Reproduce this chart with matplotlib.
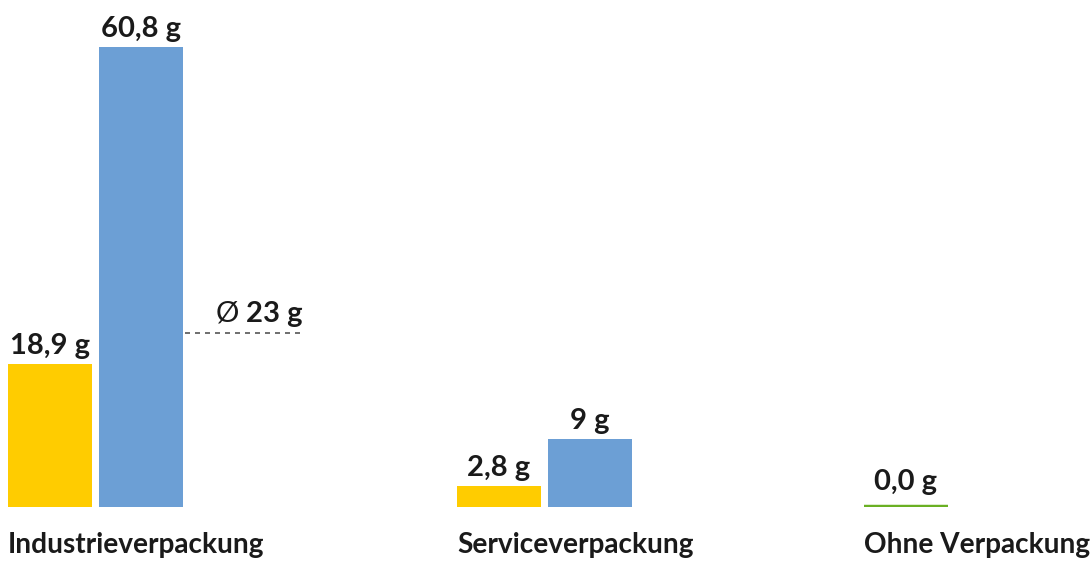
import matplotlib
matplotlib.use("Agg")
import matplotlib.pyplot as plt

categories = ["Industrieverpackung", "Serviceverpackung", "Ohne Verpackung"]
yellow_vals = [18.9, 2.8, None]
blue_vals = [60.8, 9.0, None]
green_vals = [None, None, 0.0]
yellow_labels = ["18,9 g", "2,8 g", None]
blue_labels = ["60,8 g", "9 g", None]
green_labels = [None, None, "0,0 g"]
avg_value = 23.0
avg_label_sym = "Ø"
avg_label_num = "23 g"

YELLOW = "#FFCC00"
BLUE = "#6C9FD5"
GREEN = "#6AB023"
TEXT = "#1a1a1a"
FONT = ["Lato", "DejaVu Sans"]

W, H = 1090, 561
fig = plt.figure(figsize=(W / 100, H / 100), dpi=100)
bottom_px = 54
ax = fig.add_axes([0, bottom_px / H, 1, 1 - bottom_px / H])
px_per_g = 460 / 60.8
ax.set_xlim(0, W)
ax.set_ylim(0, (H - bottom_px) / px_per_g)
ax.axis("off")

group_starts = [8, 457, 864]
bw = 84
gap = 7
fs = 21
fs_cat = 20.2

for i, start in enumerate(group_starts):
    x = start
    if yellow_vals[i] is not None:
        ax.bar(x, yellow_vals[i], width=bw, align="edge", color=YELLOW)
        ax.annotate(yellow_labels[i], (x + bw / 2, yellow_vals[i]), xytext=(0, 5),
                    textcoords="offset pixels", ha="center", va="bottom",
                    fontsize=fs, fontweight="bold", color=TEXT, family=FONT)
        x += bw + gap
    if blue_vals[i] is not None:
        ax.bar(x, blue_vals[i], width=bw, align="edge", color=BLUE)
        ax.annotate(blue_labels[i], (x + bw / 2, blue_vals[i]), xytext=(0, 5),
                    textcoords="offset pixels", ha="center", va="bottom",
                    fontsize=fs, fontweight="bold", color=TEXT, family=FONT)
        x += bw + gap
    if green_vals[i] is not None:
        ax.plot([x, x + bw], [green_vals[i], green_vals[i]], color=GREEN, lw=3.2,
                solid_capstyle="butt")
        ax.annotate(green_labels[i], (x + bw / 2, green_vals[i]), xytext=(0, 12),
                    textcoords="offset pixels", ha="center", va="bottom",
                    fontsize=fs, fontweight="bold", color=TEXT, family=FONT)
    fig.text((start) / W, 1 - 545 / H, categories[i], ha="left", va="center",
             fontsize=fs_cat, fontweight="bold", color=TEXT, family=FONT)

# average line
ax.plot([185, 303], [avg_value, avg_value], color="#555555", lw=1.2,
        linestyle=(0, (3, 3)))
t = ax.annotate(avg_label_num, (303, avg_value), xytext=(0, 6),
                textcoords="offset pixels", ha="right", va="bottom",
                fontsize=fs, fontweight="bold", color=TEXT, family=FONT)
fig.canvas.draw()
bb = t.get_window_extent()
ax.annotate(avg_label_sym + " ", (303, avg_value), xytext=(-(bb.width), 6),
            textcoords="offset pixels", ha="right", va="bottom",
            fontsize=fs, fontweight="normal", color=TEXT, family=FONT)

fig.savefig("out.png", dpi=100)
